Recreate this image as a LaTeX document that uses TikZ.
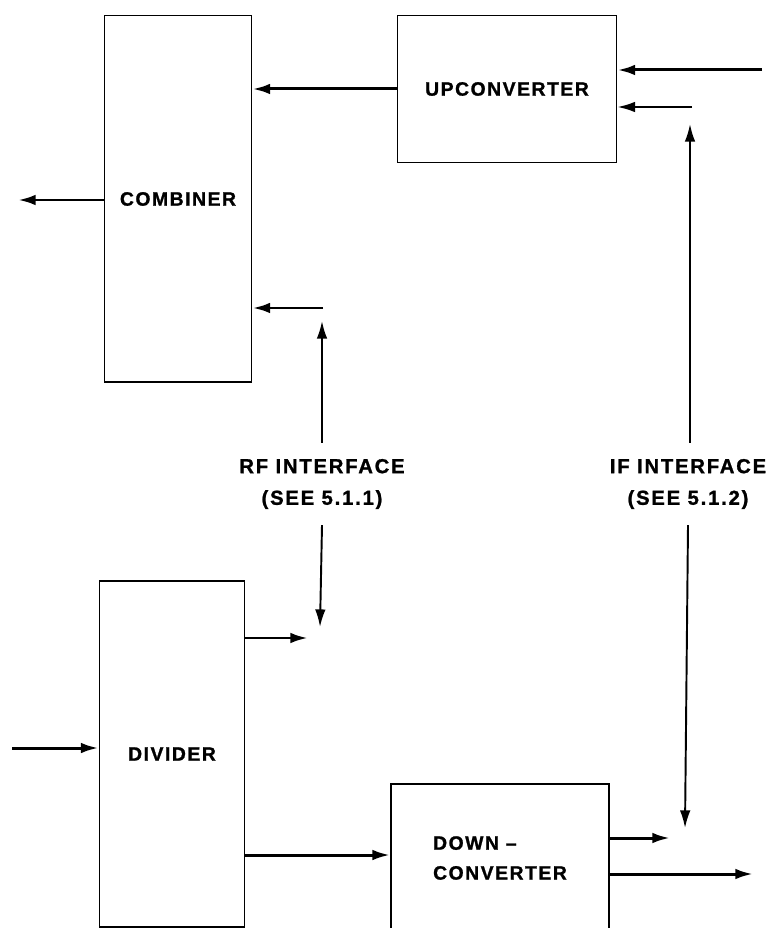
\documentclass[tikz,border=0pt]{standalone}
\usepackage{fontspec}
\setmainfont{Liberation Sans}
\usepackage{tikz}
\usetikzlibrary{arrows.meta,positioning,calc}

\begin{document}
\begin{tikzpicture}[x=0.02cm, y=-0.02cm,
    blockbox/.style={draw, line width=1.1pt, inner sep=0pt, align=left,
        font=\fontsize{11}{17}\selectfont\addfontfeature{LetterSpace=8,FakeBold=1.2}\bfseries},
    sig/.style={line width=1.7pt, -{Latex[length=10pt,width=6pt]}},
    ifline/.style={line width=1.1pt, -{Latex[length=10pt,width=6pt]}},
    lbl/.style={align=center, inner sep=9pt,
        font=\fontsize{11.5}{18}\selectfont\addfontfeature{LetterSpace=9,FakeBold=1.2}\bfseries}]
    \useasboundingbox (0,0) rectangle (770,928);
    \clip (0,0) rectangle (770,928);

    \node[blockbox, minimum width=2.94cm, minimum height=7.34cm] (comb) at (178,199) {COMBINER};
    \node[blockbox, minimum width=4.38cm, minimum height=2.94cm] (upc) at (507,89) {UPCONVERTER};
    \node[blockbox, minimum width=2.9cm, minimum height=6.92cm] (div) at (172,754) {DIVIDER};
    \node[blockbox, minimum width=4.36cm, minimum height=2.96cm] (dnc) at (500,858) {DOWN --\\CONVERTER};

    \node[lbl] (rflab) at (322,484) {RF INTERFACE\\(SEE 5.1.1)};
    \node[lbl] (iflab) at (688,484) {IF INTERFACE\\(SEE 5.1.2)};

    \coordinate (combout) at (18,200);
    \coordinate (upin) at (762,70);
    \coordinate (ifup) at (692,107);
    \coordinate (iftop) at (690,124);
    \coordinate (rfin) at (323,308);
    \coordinate (rftop) at (322,321);
    \coordinate (rfbot) at (320,627);
    \coordinate (divout) at (308,638);
    \coordinate (divin) at (12,748);
    \coordinate (ifbot) at (685,828);
    \coordinate (dncif) at (670,838);
    \coordinate (dncout) at (753,874);

    \draw[sig] (upc.west) -- (upc.west -| comb.east);
    \draw[sig] (comb.west |- combout) -- (combout);
    \draw[sig] (upin) -- (upin -| upc.east);
    \draw[ifline] (ifup) -- (ifup -| upc.east);
    \draw[sig] (rfin) -- (rfin -| comb.east);

    \draw[ifline] (rflab.north) -- (rftop);
    \draw[ifline] (rflab.south) -- (rfbot);
    \draw[ifline] (iflab.north -| iftop) -- (iftop);
    \draw[ifline] (iflab.south) -- (ifbot);

    \draw[sig] (div.east |- divout) -- (divout);
    \draw[sig] (divin) -- (divin -| div.west);
    \draw[sig] (div.east |- 0,855) -- (dnc.west |- 0,855);
    \draw[sig] (dnc.east |- dncif) -- (dncif);
    \draw[sig] (dnc.east |- dncout) -- (dncout);
\end{tikzpicture}
\end{document}
